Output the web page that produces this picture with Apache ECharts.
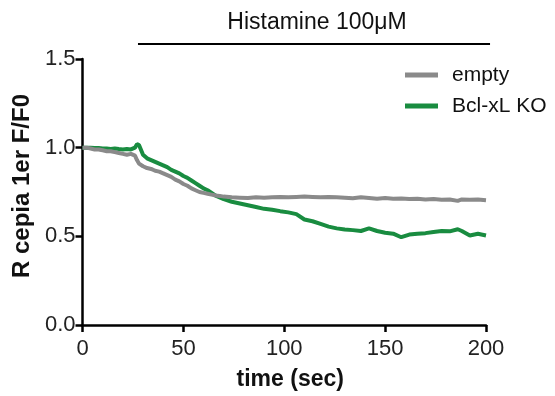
<!DOCTYPE html>
<html>
<head>
<meta charset="utf-8">
<script src="https://cdn.jsdelivr.net/npm/echarts@6/dist/echarts.min.js"></script>
<style>
html,body{margin:0;padding:0;background:#fff;}
#c{width:555px;height:396px;}
</style>
</head>
<body>
<div id="c"></div>
<script>
var timeSec = [0,2,4,6,8,10,12,14,16,18,20,22,24,26,27,28,30,32,34,36,38,40,42,44,46,48,50,52,54,56,58,60,62,64,66,68,70,74,78,82,86,90,94,98,102,106,110,114,118,122,126,130,134,138,142,146,150,154,158,162,166,170,174,178,182,186,188,192,196,200];
var emptyVals = [1.00,1.00,0.995,0.99,0.99,0.985,0.98,0.98,0.975,0.97,0.965,0.96,0.965,0.955,0.93,0.91,0.895,0.885,0.88,0.87,0.865,0.855,0.845,0.835,0.82,0.81,0.795,0.785,0.77,0.76,0.75,0.745,0.74,0.735,0.73,0.728,0.724,0.72,0.718,0.716,0.72,0.718,0.72,0.722,0.72,0.722,0.724,0.722,0.72,0.722,0.72,0.718,0.715,0.72,0.716,0.712,0.716,0.712,0.714,0.71,0.712,0.708,0.71,0.706,0.708,0.70,0.708,0.706,0.708,0.704];
var bclVals = [1.00,1.00,1.00,0.998,0.998,0.995,0.995,0.993,0.995,0.992,0.99,0.993,0.99,1.00,1.02,1.015,0.96,0.94,0.93,0.92,0.91,0.90,0.89,0.875,0.865,0.855,0.84,0.83,0.815,0.80,0.785,0.77,0.76,0.745,0.73,0.72,0.71,0.695,0.685,0.675,0.665,0.655,0.65,0.642,0.635,0.625,0.595,0.585,0.57,0.555,0.545,0.538,0.535,0.53,0.545,0.53,0.52,0.515,0.495,0.51,0.515,0.518,0.525,0.53,0.528,0.54,0.53,0.505,0.515,0.505];
var seriesNames = ['empty','Bcl-xL KO'];
var xTicks = [0,50,100,150,200];
var yTicks = [0.0,0.5,1.0,1.5];
var stimLabel = 'Histamine 100\u03BCM';
var stimStart = 27.5, stimEnd = 202, stimLevel = 1.585;

function pairs(vals){ return timeSec.map(function(t,i){ return [t, vals[i]]; }); }

var FONT = '"Liberation Sans", Arial, sans-serif';
var chart = echarts.init(document.getElementById('c'), null, {renderer:'canvas'});
var option = {
  animation:false,
  backgroundColor:'#fff',
  grid:{left:82.5, right:69, top:59, bottom:67.5, containLabel:false},
  legend:{
    data:seriesNames, orient:'vertical', left:400, top:59,
    icon:'rect', itemWidth:33, itemHeight:5, itemGap:9,
    textStyle:{fontFamily:FONT, fontSize:21, color:'#111', lineHeight:22, padding:[0,0,0,9]}
  },
  xAxis:{
    type:'value', min:xTicks[0], max:xTicks[xTicks.length-1], interval:50,
    name:'time (sec)', nameLocation:'middle', nameGap:43,
    nameTextStyle:{fontFamily:FONT, fontSize:23, fontWeight:'bold', color:'#111', padding:[0,0,0,12]},
    axisLine:{show:true, lineStyle:{color:'#000', width:2.5}},
    axisTick:{show:true, length:7, lineStyle:{color:'#000', width:2.5}},
    axisLabel:{fontFamily:FONT, fontSize:22, color:'#222', margin:13},
    splitLine:{show:false}
  },
  yAxis:{
    type:'value', min:yTicks[0], max:yTicks[yTicks.length-1], interval:0.5,
    name:'R cepia 1er F/F0', nameLocation:'middle', nameGap:48, nameRotate:90,
    nameTextStyle:{fontFamily:FONT, fontSize:24, fontWeight:'bold', color:'#111', padding:[0,0,0,12]},
    axisLine:{show:true, lineStyle:{color:'#000', width:2.5}},
    axisTick:{show:true, length:7, lineStyle:{color:'#000', width:2.5}},
    axisLabel:{fontFamily:FONT, fontSize:22, color:'#222', margin:7,
      formatter:function(v){ return v.toFixed(1); }},
    splitLine:{show:false}
  },
  series:[
    {name:seriesNames[1], type:'line', data:pairs(bclVals), showSymbol:false, z:2,
     lineStyle:{color:'#198c40', width:4}, itemStyle:{color:'#198c40'}},
    {name:seriesNames[0], type:'line', data:pairs(emptyVals), showSymbol:false, z:3,
     lineStyle:{color:'#8a8a8a', width:4}, itemStyle:{color:'#8a8a8a'}}
  ]
};
chart.setOption(option);
var p0 = chart.convertToPixel({gridIndex:0}, [stimStart, stimLevel]);
var p1 = chart.convertToPixel({gridIndex:0}, [stimEnd, stimLevel]);
chart.setOption({
  graphic:[
    {type:'line', shape:{x1:p0[0], y1:p0[1], x2:p1[0], y2:p1[1]}, style:{stroke:'#000', lineWidth:2}},
    {type:'text', x:317, y:p0[1]-10, style:{text:stimLabel, fontFamily:FONT, fontSize:23, fill:'#111', align:'center', verticalAlign:'bottom'}}
  ]
});
</script>
</body>
</html>
